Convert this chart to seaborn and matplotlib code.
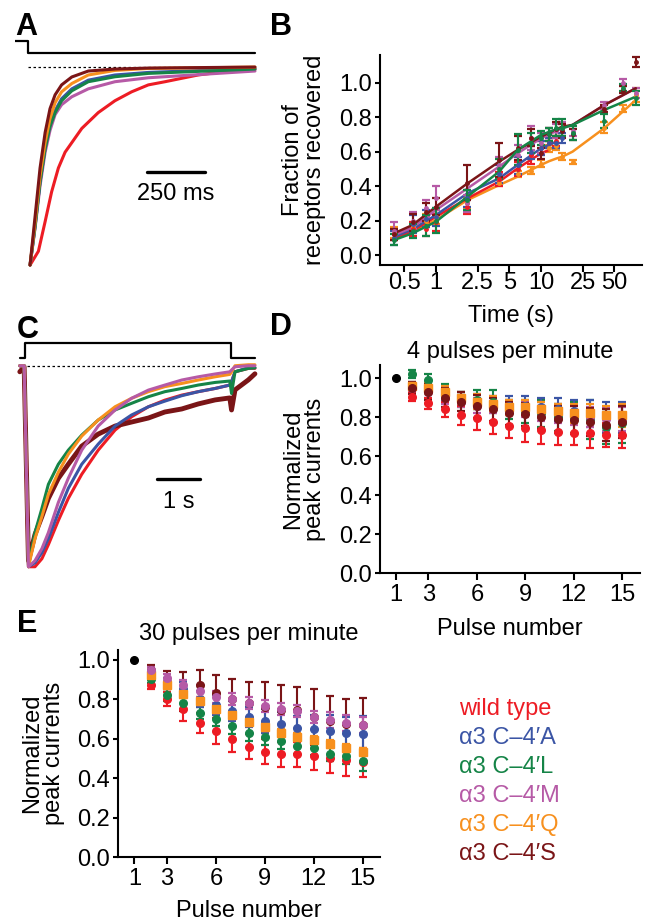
import matplotlib
matplotlib.use('Agg')
import matplotlib.pyplot as plt
from matplotlib.ticker import NullLocator, FormatStrFormatter
import seaborn as sns

sns.set_style('ticks')
plt.rcParams['font.family'] = ['Liberation Sans', 'DejaVu Sans']
plt.rcParams['font.size'] = 17
for key in ('text.color', 'axes.labelcolor', 'xtick.color', 'ytick.color', 'axes.edgecolor'):
    plt.rcParams[key] = 'black'

W, H = 646, 922

names = ['wild type', 'α3 C–4′A', 'α3 C–4′L', 'α3 C–4′M', 'α3 C–4′Q', 'α3 C–4′S']
colors = ['#ED1C24', '#3B55A5', '#158447', '#B65AA6', '#F7901E', '#7A1517']

# A: desensitization traces (time in ms, current normalized to peak)
a_time = [0, 22, 43, 65, 86, 108, 136, 180, 251, 366, 510, 970]
a_wt_time = [0, 36, 65, 93, 122, 151, 223, 294, 366, 438, 510, 582, 653, 725, 797, 970]
a_wt = [-1.0, -0.93, -0.78, -0.63, -0.51, -0.43, -0.31, -0.23, -0.17, -0.125, -0.09, -0.074, -0.057, -0.04, -0.029, -0.012]
a_A = [-1.0, -0.80, -0.58, -0.41, -0.29, -0.22, -0.16, -0.11, -0.066, -0.04, -0.027, -0.007]
a_L = [-1.0, -0.80, -0.58, -0.41, -0.30, -0.23, -0.17, -0.12, -0.074, -0.049, -0.032, -0.01]
a_M = [-1.0, -0.81, -0.60, -0.43, -0.32, -0.24, -0.19, -0.15, -0.11, -0.074, -0.054, -0.02]
a_Q = [-1.0, -0.78, -0.55, -0.38, -0.26, -0.18, -0.125, -0.083, -0.04, -0.017, -0.007, 0.0]
a_S = [-1.0, -0.75, -0.51, -0.33, -0.21, -0.14, -0.09, -0.05, -0.02, -0.01, -0.005, 0.0]

# B: recovery from desensitization
b_time = [0.4, 0.6, 0.8, 1, 2, 4, 6, 8, 10, 12, 14, 16, 20, 40, 60, 80]
nan = float('nan')
b_wt = [0.12, 0.15, 0.15, 0.19, 0.28, 0.44, 0.50, 0.58, 0.62, 0.65, 0.66, nan, nan, nan, nan, nan]
b_A = [0.10, 0.18, 0.21, 0.22, 0.33, 0.47, 0.52, 0.60, 0.62, 0.65, 0.65, 0.68, nan, nan, nan, nan]
b_L = [0.09, 0.14, 0.17, 0.20, 0.32, 0.50, 0.61, 0.65, 0.68, 0.70, 0.74, 0.74, 0.71, 0.78, 0.97, 0.91]
b_M = [0.14, 0.20, 0.27, 0.33, 0.30, 0.52, 0.58, 0.68, 0.65, 0.70, 0.72, 0.73, 0.72, 0.87, 1.00, 0.94]
b_Q = [0.13, 0.16, 0.20, 0.22, 0.30, 0.42, 0.47, 0.49, 0.53, 0.62, 0.63, 0.57, 0.54, 0.74, 0.85, 0.93]
b_S = [0.12, 0.19, 0.25, 0.28, 0.42, 0.55, 0.62, 0.68, 0.59, 0.70, 0.73, 0.72, 0.70, 0.85, 0.96, 1.12]
b_wt_err = [0.03, 0.04, 0.04, 0.05, 0.04, 0.04, 0.04, 0.05, 0.04, 0.03, 0.03, nan, nan, nan, nan, nan]
b_A_err = [0.04, 0.05, 0.05, 0.05, 0.05, 0.05, 0.05, 0.04, 0.04, 0.03, 0.03, 0.03, nan, nan, nan, nan]
b_L_err = [0.03, 0.04, 0.06, 0.07, 0.06, 0.06, 0.09, 0.06, 0.04, 0.04, 0.05, 0.05, 0.04, 0.04, 0.02, 0.04]
b_M_err = [0.05, 0.05, 0.05, 0.07, 0.05, 0.05, 0.06, 0.07, 0.06, 0.04, 0.04, 0.04, 0.03, 0.02, 0.02, 0.03]
b_Q_err = [0.03, 0.03, 0.04, 0.04, 0.03, 0.02, 0.02, 0.02, 0.02, 0.02, 0.02, 0.02, 0.01, 0.03, 0.02, 0.04]
b_S_err = [0.03, 0.05, 0.05, 0.05, 0.10, 0.10, 0.07, 0.05, 0.03, 0.04, 0.04, 0.04, 0.03, 0.02, 0.02, 0.03]
b_fit_time = [0.4, 0.6, 1, 2, 4, 6, 10, 12, 14, 16, 20, 40, 80]
b_wt_fit = [0.097, 0.14, 0.222, 0.329, 0.426, 0.503, 0.59, 0.61, nan, nan, nan, nan, nan]
b_A_fit = [0.106, 0.15, 0.232, 0.358, 0.445, 0.523, 0.619, 0.64, 0.658, nan, nan, nan, nan]
b_L_fit = [0.087, 0.126, 0.193, 0.339, 0.484, 0.61, 0.697, 0.715, 0.73, 0.736, 0.755, 0.842, 0.919]
b_M_fit = [0.116, 0.16, 0.261, 0.387, 0.513, 0.59, 0.677, 0.70, 0.72, 0.736, 0.755, 0.87, 0.968]
b_Q_fit = [0.097, 0.135, 0.203, 0.319, 0.406, 0.455, 0.523, 0.545, 0.56, 0.571, 0.60, 0.736, 0.90]
b_S_fit = [0.126, 0.174, 0.28, 0.416, 0.542, 0.61, 0.687, 0.71, 0.73, 0.745, 0.755, 0.87, 0.968]
b_ticks = [0.5, 1, 2.5, 5, 10, 25, 50]
b_ticklabels = ['0.5', '1', '2.5', '5', '10', '25', '50']

# C: 5 s application traces (time in s, current normalized to peak)
c_time = [-0.12, -0.02, 0.08, 0.23, 0.39, 0.54, 0.77, 1.00, 1.31, 1.69, 2.08, 2.46, 2.85,
          3.23, 3.62, 4.00, 4.39, 4.73, 4.77, 4.85, 5.16, 5.31]
c_wt = [0, 0, -1.0, -1.0, -0.96, -0.89, -0.77, -0.66, -0.54, -0.42, -0.32, -0.254, -0.204,
        -0.171, -0.146, -0.129, -0.113, -0.096, -0.079, -0.03, -0.013, -0.013]
c_A = [0, 0, -1.0, -0.98, -0.93, -0.86, -0.73, -0.61, -0.49, -0.39, -0.30, -0.245, -0.204,
       -0.176, -0.149, -0.129, -0.113, -0.096, -0.079, -0.03, -0.01, -0.01]
c_L = [0, 0, -0.99, -0.83, -0.71, -0.59, -0.49, -0.42, -0.345, -0.27, -0.22, -0.187, -0.154,
       -0.129, -0.113, -0.096, -0.083, -0.076, -0.138, -0.03, -0.013, -0.01]
c_M = [0, 0, -1.0, -0.97, -0.91, -0.83, -0.68, -0.56, -0.42, -0.30, -0.22, -0.162, -0.121,
       -0.096, -0.071, -0.055, -0.041, -0.03, -0.021, -0.005, 0.0, 0.0]
c_Q = [0, 0, -1.0, -0.86, -0.75, -0.64, -0.53, -0.44, -0.35, -0.27, -0.204, -0.162, -0.129,
       -0.104, -0.088, -0.071, -0.055, -0.043, -0.03, 0.0, 0.005, 0.005]
c_S = [-0.03, -0.005, -0.97, -0.84, -0.75, -0.66, -0.56, -0.49, -0.40, -0.34, -0.30, -0.28, -0.26,
       -0.23, -0.215, -0.19, -0.17, -0.16, -0.22, -0.12, -0.07, -0.04]

# D / E: normalized peak currents for pulses 2-15 (pulse 1 = 1.0)
pulses = list(range(2, 16))
d_wt = [0.905, 0.871, 0.84, 0.81, 0.795, 0.777, 0.755, 0.743, 0.734, 0.725, 0.72, 0.717, 0.708, 0.708]
d_A = [0.96, 0.95, 0.92, 0.90, 0.88, 0.87, 0.86, 0.86, 0.85, 0.84, 0.83, 0.82, 0.80, 0.80]
d_L = [1.02, 0.99, 0.93, 0.89, 0.89, 0.88, 0.84, 0.83, 0.82, 0.80, 0.80, 0.79, 0.75, 0.77]
d_M = [0.95, 0.93, 0.90, 0.88, 0.86, 0.86, 0.85, 0.84, 0.83, 0.82, 0.81, 0.80, 0.79, 0.79]
d_Q = [0.96, 0.95, 0.93, 0.90, 0.88, 0.87, 0.85, 0.85, 0.84, 0.83, 0.82, 0.82, 0.81, 0.81]
d_S = [0.95, 0.93, 0.90, 0.88, 0.855, 0.84, 0.82, 0.815, 0.80, 0.79, 0.785, 0.775, 0.76, 0.775]
d_wt_err = [0.02, 0.03, 0.04, 0.05, 0.06, 0.065, 0.06, 0.07, 0.07, 0.07, 0.065, 0.075, 0.06, 0.065]
d_A_err = [0.02, 0.03, 0.03, 0.03, 0.04, 0.04, 0.05, 0.05, 0.05, 0.06, 0.06, 0.07, 0.08, 0.08]
d_L_err = [0.02, 0.03, 0.04, 0.04, 0.05, 0.06, 0.05, 0.06, 0.07, 0.07, 0.08, 0.10, 0.09, 0.10]
d_M_err = [0.02, 0.03, 0.03, 0.03, 0.04, 0.04, 0.04, 0.04, 0.05, 0.05, 0.05, 0.05, 0.06, 0.06]
d_Q_err = [0.02, 0.03, 0.03, 0.03, 0.04, 0.04, 0.04, 0.04, 0.04, 0.04, 0.05, 0.05, 0.05, 0.06]
d_S_err = [0.03, 0.04, 0.05, 0.05, 0.06, 0.06, 0.06, 0.06, 0.06, 0.07, 0.07, 0.07, 0.08, 0.08]

e_wt = [0.875, 0.80, 0.75, 0.68, 0.64, 0.60, 0.56, 0.535, 0.52, 0.52, 0.51, 0.50, 0.49, 0.48]
e_A = [0.93, 0.88, 0.85, 0.80, 0.77, 0.74, 0.71, 0.69, 0.675, 0.655, 0.65, 0.64, 0.63, 0.625]
e_L = [0.905, 0.82, 0.78, 0.73, 0.70, 0.665, 0.63, 0.61, 0.59, 0.565, 0.555, 0.525, 0.51, 0.485]
e_M = [0.95, 0.91, 0.87, 0.84, 0.81, 0.80, 0.78, 0.765, 0.75, 0.74, 0.71, 0.695, 0.68, 0.67]
e_Q = [0.925, 0.87, 0.825, 0.79, 0.75, 0.72, 0.685, 0.66, 0.63, 0.61, 0.595, 0.575, 0.555, 0.535]
e_S = [0.95, 0.89, 0.84, 0.87, 0.83, 0.80, 0.78, 0.76, 0.745, 0.745, 0.71, 0.69, 0.675, 0.67]
e_wt_err = [0.025, 0.035, 0.06, 0.05, 0.065, 0.065, 0.065, 0.065, 0.065, 0.065, 0.07, 0.075, 0.08, 0.075]
e_A_err = [0.02, 0.03, 0.04, 0.04, 0.05, 0.05, 0.05, 0.06, 0.06, 0.06, 0.07, 0.08, 0.08, 0.09]
e_L_err = [0.02, 0.03, 0.03, 0.03, 0.035, 0.04, 0.04, 0.04, 0.04, 0.04, 0.04, 0.04, 0.04, 0.05]
e_M_err = [0.015, 0.02, 0.03, 0.03, 0.03, 0.03, 0.03, 0.03, 0.03, 0.03, 0.03, 0.04, 0.04, 0.04]
e_Q_err = [0.015, 0.02, 0.02, 0.02, 0.02, 0.02, 0.02, 0.02, 0.02, 0.02, 0.02, 0.02, 0.02, 0.02]
e_S_err = [0.025, 0.055, 0.10, 0.08, 0.095, 0.105, 0.11, 0.13, 0.125, 0.115, 0.14, 0.125, 0.125, 0.135]
pulse_ticks = [1, 3, 6, 9, 12, 15]

fig = plt.figure(figsize=(W / 100, H / 100), dpi=100)


def px_axes(l, t, r, b):
    return fig.add_axes([l / W, 1 - b / H, (r - l) / W, (b - t) / H])


def ftext(x, y, s, **kw):
    fig.text(x / W, 1 - y / H, s, **kw)


def style_axes(ax):
    sns.despine(ax=ax)
    for sp in ('left', 'bottom'):
        ax.spines[sp].set_linewidth(1.5)
        ax.spines[sp].set_color('black')
    ax.tick_params(axis='y', length=3.6, width=1.5, pad=2, labelsize=17, colors='black')
    ax.tick_params(axis='x', length=5, width=1.5, pad=1, labelsize=17, colors='black')


# ---------- A ----------
axA = px_axes(15, 35, 258, 270)
axA.set_xlim(-65, 983)
axA.set_ylim(-1.025, 0.162)
axA.axis('off')
axA.plot([-65, -9, -9, 970], [0.131, 0.131, 0.071, 0.071], color='k', lw=1.6)
axA.plot([-9, 970], [0, 0], color='k', lw=0.9, ls=(0, (2, 2)))
sns.lineplot(x=a_wt_time, y=a_wt, color=colors[0], lw=2.2, ax=axA)
for vals, ci in [(a_M, 3), (a_A, 1), (a_L, 2), (a_Q, 4), (a_S, 5)]:
    sns.lineplot(x=a_time, y=vals, color=colors[ci], lw=2.2, ax=axA)
axA.plot([504, 754], [-0.53, -0.53], color='k', lw=2.4)
axA.text(629, -0.672, '250 ms', ha='center', va='baseline', fontsize=17)

# ---------- B ----------
axB = px_axes(380, 55, 642, 265)
axB.set_xscale('log')
b_sets = [(b_Q, b_Q_err, b_Q_fit, 4), (b_wt, b_wt_err, b_wt_fit, 0), (b_A, b_A_err, b_A_fit, 1),
          (b_M, b_M_err, b_M_fit, 3), (b_S, b_S_err, b_S_fit, 5), (b_L, b_L_err, b_L_fit, 2)]
for mean, err, fit, ci in b_sets:
    sns.lineplot(x=b_fit_time, y=fit, color=colors[ci], lw=1.8, ax=axB)
    axB.errorbar(b_time, mean, yerr=err, fmt='o', ms=2.5, color=colors[ci],
                 capsize=2.8, capthick=1.6, elinewidth=1.5)
axB.set_xlim(0.294, 91.6)
axB.set_ylim(-0.058, 1.161)
axB.set_xticks(b_ticks)
axB.set_xticklabels(b_ticklabels)
axB.xaxis.set_minor_locator(NullLocator())
axB.set_yticks([0, 0.2, 0.4, 0.6, 0.8, 1.0])
axB.yaxis.set_major_formatter(FormatStrFormatter('%.1f'))
style_axes(axB)
axB.tick_params(axis='x', pad=0)

# ---------- C ----------
axC = px_axes(15, 335, 258, 575)
axC.set_xlim(-0.231, 5.381)
axC.set_ylim(-1.041, 0.153)
axC.axis('off')
axC.plot([-0.115, 0, 0, 4.757, 4.757, 5.31], [0.038, 0.038, 0.111, 0.111, 0.038, 0.038],
         color='k', lw=1.6)
axC.plot([-0.07, 4.76], [0, 0], color='k', lw=0.9, ls=(0, (2, 2)))
for vals, ci, lw in [(c_wt, 0, 2.2), (c_S, 5, 3.5), (c_A, 1, 2.2), (c_L, 2, 2.2), (c_Q, 4, 2.2), (c_M, 3, 2.2)]:
    sns.lineplot(x=c_time, y=vals, color=colors[ci], lw=lw, ax=axC)
axC.plot([3.04, 4.04], [-0.565, -0.565], color='k', lw=2.4)
axC.text(3.54, -0.706, '1 s', ha='center', va='baseline', fontsize=17)


# ---------- D / E ----------
def pulse_panel(ax, sets, ymax, xmax):
    for mean, err, ci in sets:
        ax.errorbar(pulses, mean, yerr=err, fmt='s' if ci == 4 else 'o', ms=5.5,
                    color=colors[ci], capsize=3, capthick=1.6, elinewidth=1.5)
    ax.plot([1], [1.0], 'o', color='k', ms=5.5)
    ax.set_xlim(0, xmax)
    ax.set_ylim(0, ymax)
    ax.set_xticks(pulse_ticks)
    ax.set_yticks([0, 0.2, 0.4, 0.6, 0.8, 1.0])
    ax.yaxis.set_major_formatter(FormatStrFormatter('%.1f'))
    style_axes(ax)
    ax.tick_params(axis='x', pad=3)


axD = px_axes(380, 365, 640, 573)
pulse_panel(axD, [(d_L, d_L_err, 2), (d_A, d_A_err, 1), (d_M, d_M_err, 3), (d_Q, d_Q_err, 4),
                  (d_wt, d_wt_err, 0), (d_S, d_S_err, 5)], 1.068, 16.1)

axE = px_axes(118, 650, 380, 857)
pulse_panel(axE, [(e_S, e_S_err, 5), (e_wt, e_wt_err, 0), (e_L, e_L_err, 2), (e_A, e_A_err, 1),
                  (e_Q, e_Q_err, 4), (e_M, e_M_err, 3)], 1.05, 16.06)

# ---------- texts ----------
for lab, x, y in [('A', 15, 35), ('B', 270, 35), ('C', 17, 338), ('D', 270, 335), ('E', 17, 632)]:
    ftext(x, y, lab, fontsize=22, fontweight='bold', va='baseline', ha='left')

ftext(304, 160, 'Fraction of\nreceptors recovered', rotation=90, ha='center', va='center',
      multialignment='center', linespacing=0.95)
ftext(304, 469, 'Normalized\npeak currents', rotation=90, ha='center', va='center',
      multialignment='center', linespacing=0.95)
ftext(43, 753, 'Normalized\npeak currents', rotation=90, ha='center', va='center',
      multialignment='center', linespacing=0.95)
ftext(511, 322, 'Time (s)', ha='center', va='baseline')
ftext(510, 358, '4 pulses per minute', ha='center', va='baseline')
ftext(510, 635, 'Pulse number', ha='center', va='baseline')
ftext(249, 640, '30 pulses per minute', ha='center', va='baseline')
ftext(249, 917, 'Pulse number', ha='center', va='baseline')

for i, (nm, c) in enumerate(zip(names, colors)):
    ftext(459, 715 + 29 * i, nm, color=c, ha='left', va='baseline')

fig.savefig('out.png', dpi=100)
